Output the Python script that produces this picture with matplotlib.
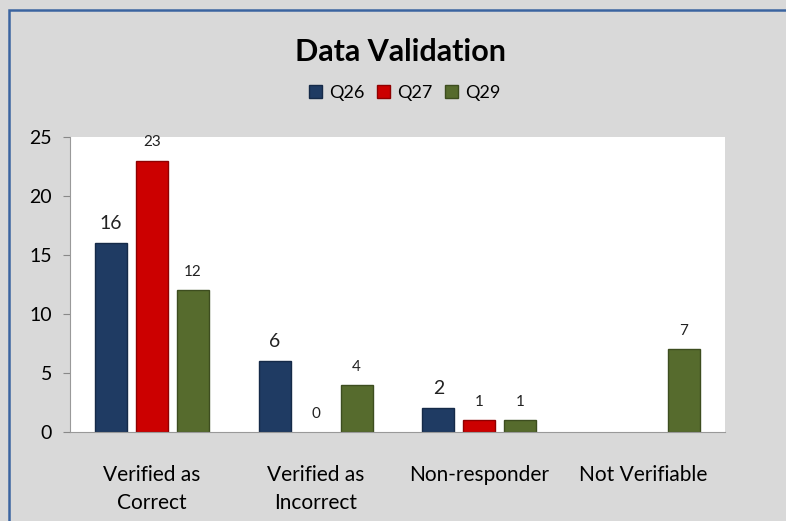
import matplotlib.pyplot as plt
from matplotlib.patches import Rectangle
import numpy as np

categories = ["Verified as\nCorrect", "Verified as\nIncorrect", "Non-responder", "Not Verifiable"]
series_names = ["Q26", "Q27", "Q29"]
q26 = [16, 6, 2, None]
q27 = [23, 0, 1, None]
q29 = [12, 4, 1, 7]
y_ticks = [0, 5, 10, 15, 20, 25]

colors = ["#1f3b63", "#cc0000", "#566b2d"]
edges = ["#152a48", "#8f0000", "#3d4d1f"]
label_sizes = [14, 11, 11]

plt.rcParams['font.family'] = ['Lato', 'DejaVu Sans']

fig = plt.figure(figsize=(7.86, 5.21), dpi=100)
fig.patch.set_facecolor("#d9d9d9")
ax = fig.add_axes([70 / 786, 1 - 432 / 521, 655 / 786, 295 / 521])
ax.set_facecolor("white")

x = np.arange(len(categories))
width = 0.195
offsets = [-0.25, 0, 0.25]

handles = []
for vals, name, c, ec, off, fs in zip([q26, q27, q29], series_names, colors, edges, offsets, label_sizes):
    v = np.array([np.nan if a is None else a for a in vals], dtype=float)
    bars = ax.bar(x + off, np.nan_to_num(v), width, color=c, edgecolor=ec, linewidth=1, label=name)
    handles.append(bars)
    # hide empty bars so no edge line shows on the axis
    for rect, vi in zip(bars, v):
        if np.isnan(vi) or vi == 0:
            rect.set_visible(False)
    for xi, vi in zip(x + off, v):
        if np.isnan(vi):
            continue
        ax.annotate(f"{int(vi)}", (xi, vi), xytext=(0, 8), textcoords="offset points",
                    ha="center", va="bottom", fontsize=fs, color="#222222")

ax.set_xlim(-0.5, len(categories) - 0.5)
ax.set_ylim(0, 25)
ax.set_yticks(y_ticks)
ax.tick_params(axis="y", labelsize=14, length=5, color="#888888", pad=8)
ax.set_xticks(x)
ax.set_xticklabels(categories, fontsize=15, linespacing=1.45)
ax.tick_params(axis="x", length=0, pad=24)
for s in ["top", "right"]:
    ax.spines[s].set_visible(False)
for s in ["left", "bottom"]:
    ax.spines[s].set_color("#999999")

fig.text(0.509, 1 - 52 / 521, "Data Validation", ha="center", va="center",
         fontsize=22, fontweight="bold")
fig.legend(handles=handles, loc="center", bbox_to_anchor=(0.515, 1 - 93 / 521), ncol=3,
           frameon=False, fontsize=13, handlelength=0.7, handleheight=0.7,
           handletextpad=0.4, columnspacing=0.7)

# chart frame (cut off at right and bottom)
fig.patches.append(Rectangle((9 / 786, -0.1), 1.2, 1 - 10 / 521 + 0.1, transform=fig.transFigure,
                             fill=False, edgecolor="#3b64a0", linewidth=1.8))

fig.savefig("out.png", dpi=100, facecolor=fig.get_facecolor())
